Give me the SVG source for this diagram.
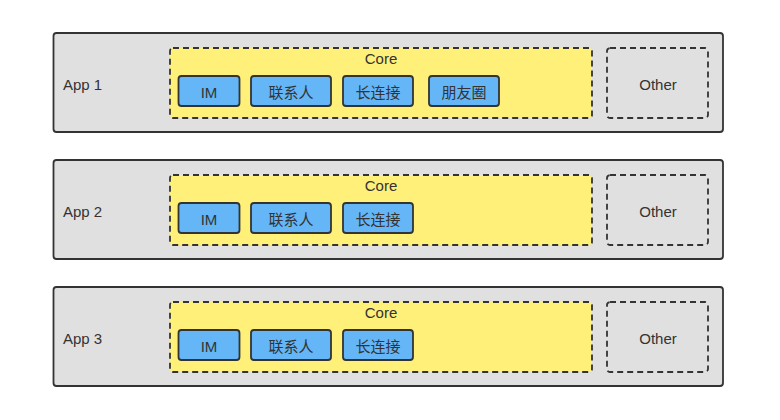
<svg xmlns="http://www.w3.org/2000/svg" width="780" height="420" viewBox="0 0 780 420">
<style>
.app{fill:#e0e0e0;stroke:#333;stroke-width:1.8}
.core{fill:#fff07a;stroke:#333;stroke-width:1.8;stroke-dasharray:6 4}
.other{fill:#e0e0e0;stroke:#333;stroke-width:1.8;stroke-dasharray:6 4}
.mod{fill:#64b6f7;stroke:#333;stroke-width:1.8}
text{font-family:"Liberation Sans","Noto Sans CJK SC",sans-serif;font-size:15px;fill:#333;dominant-baseline:central}
.c{text-anchor:middle}
</style>
<rect width="780" height="420" fill="#fff"/>
<g id="app1">
<rect class="app" x="53.5" y="33" width="669.5" height="99" rx="3"/>
<text x="63" y="84">App 1</text>
<g id="core1">
<rect class="core" x="170" y="48" width="422" height="70" rx="3"/>
<text class="c" x="381" y="58">Core</text>
</g>
<g id="im1"><rect class="mod" x="178.5" y="76" width="61" height="30" rx="3"/><text class="c" x="209" y="92">IM</text></g>
<g id="contacts1"><rect class="mod" x="251" y="76" width="80" height="30" rx="3"/><text class="c" x="291" y="92">联系人</text></g>
<g id="conn1"><rect class="mod" x="343" y="76" width="70" height="30" rx="3"/><text class="c" x="378" y="92">长连接</text></g>
<g id="moments1"><rect class="mod" x="429" y="76" width="70" height="30" rx="3"/><text class="c" x="464" y="92">朋友圈</text></g>
<g id="other1"><rect class="other" x="607" y="48" width="101" height="70" rx="3"/><text class="c" x="658" y="84">Other</text></g>
</g>
<g id="app2">
<rect class="app" x="53.5" y="160" width="669.5" height="99" rx="3"/>
<text x="63" y="211">App 2</text>
<g id="core2">
<rect class="core" x="170" y="175" width="422" height="70" rx="3"/>
<text class="c" x="381" y="185">Core</text>
</g>
<g id="im2"><rect class="mod" x="178.5" y="203" width="61" height="30" rx="3"/><text class="c" x="209" y="219">IM</text></g>
<g id="contacts2"><rect class="mod" x="251" y="203" width="80" height="30" rx="3"/><text class="c" x="291" y="219">联系人</text></g>
<g id="conn2"><rect class="mod" x="343" y="203" width="70" height="30" rx="3"/><text class="c" x="378" y="219">长连接</text></g>
<g id="other2"><rect class="other" x="607" y="175" width="101" height="70" rx="3"/><text class="c" x="658" y="211">Other</text></g>
</g>
<g id="app3">
<rect class="app" x="53.5" y="287" width="669.5" height="99" rx="3"/>
<text x="63" y="338">App 3</text>
<g id="core3">
<rect class="core" x="170" y="302" width="422" height="70" rx="3"/>
<text class="c" x="381" y="312">Core</text>
</g>
<g id="im3"><rect class="mod" x="178.5" y="330" width="61" height="30" rx="3"/><text class="c" x="209" y="346">IM</text></g>
<g id="contacts3"><rect class="mod" x="251" y="330" width="80" height="30" rx="3"/><text class="c" x="291" y="346">联系人</text></g>
<g id="conn3"><rect class="mod" x="343" y="330" width="70" height="30" rx="3"/><text class="c" x="378" y="346">长连接</text></g>
<g id="other3"><rect class="other" x="607" y="302" width="101" height="70" rx="3"/><text class="c" x="658" y="338">Other</text></g>
</g>
<g id="connectors"></g>
</svg>
